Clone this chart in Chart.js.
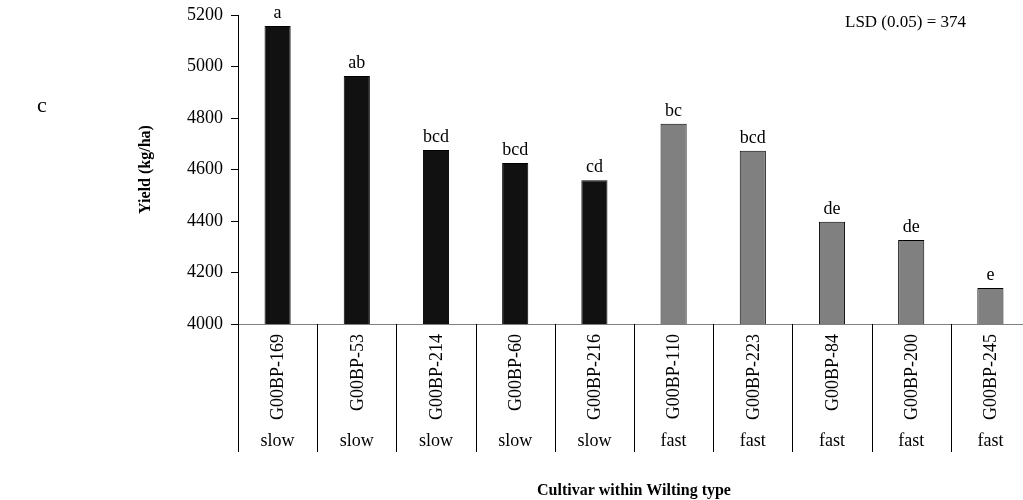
<!DOCTYPE html>
<html>
<head>
<meta charset="utf-8">
<script src="https://cdn.jsdelivr.net/npm/chart.js@4.4.1/dist/chart.umd.min.js"></script>
<style>
    html, body { margin: 0; padding: 0; background: #fff; overflow: hidden; }
    #wrap { width: 1023px; height: 500px; overflow: hidden; }
</style>
</head>
<body>
<div id="wrap"><canvas id="chart" width="1030" height="500"></canvas></div>
<script>
// 数据
const cultivars = ['G00BP-169', 'G00BP-53', 'G00BP-214', 'G00BP-60', 'G00BP-216',
    'G00BP-110', 'G00BP-223', 'G00BP-84', 'G00BP-200', 'G00BP-245'];
const wiltTypes = ['slow', 'slow', 'slow', 'slow', 'slow', 'fast', 'fast', 'fast', 'fast', 'fast'];
const yields = [5157, 4963, 4676, 4625, 4558, 4778, 4673, 4397, 4326, 4140];
const sigLetters = ['a', 'ab', 'bcd', 'bcd', 'cd', 'bc', 'bcd', 'de', 'de', 'e'];
const yMin = 4000;
const yMax = 5200;
const yStep = 200;

const SERIF = '"Liberation Serif", "Times New Roman", serif';
const typeColors = { slow: '#111111', fast: '#808080' };

// 自定义绘制：柱顶字母、分类标签、分隔线、注释文字
const extrasPlugin = {
    id: 'extras',
    afterDatasetsDraw(chart) {
        const ctx = chart.ctx;
        const meta = chart.getDatasetMeta(0);
        ctx.save();
        ctx.fillStyle = '#000';
        ctx.font = '18px ' + SERIF;
        ctx.textAlign = 'center';
        ctx.textBaseline = 'alphabetic';
        meta.data.forEach((bar, i) => {
            ctx.fillText(sigLetters[i], bar.x, bar.y - 8);
        });
        ctx.restore();
    },
    afterDraw(chart) {
        const ctx = chart.ctx;
        const x = chart.scales.x;
        const area = chart.chartArea;
        const half = (x.getPixelForValue(1) - x.getPixelForValue(0)) / 2;
        const sepBottom = 452;

        ctx.save();
        // 分隔线
        ctx.strokeStyle = '#000';
        ctx.lineWidth = 1;
        for (let i = 0; i <= cultivars.length; i++) {
            const px = Math.round(x.getPixelForValue(0) - half + i * half * 2) + 0.5;
            ctx.beginPath();
            ctx.moveTo(px, area.bottom);
            ctx.lineTo(px, sepBottom);
            ctx.stroke();
        }

        ctx.fillStyle = '#000';
        ctx.font = '18px ' + SERIF;
        cultivars.forEach((name, i) => {
            const cx = x.getPixelForValue(i);
            // 竖排品种名
            ctx.save();
            ctx.translate(cx, 334);
            ctx.rotate(-Math.PI / 2);
            ctx.textAlign = 'right';
            ctx.textBaseline = 'middle';
            ctx.fillText(name, 0, 1);
            ctx.restore();
            // 萎蔫类型
            ctx.textAlign = 'center';
            ctx.textBaseline = 'middle';
            ctx.fillText(wiltTypes[i], cx, 441);
        });

        // 注释
        ctx.textAlign = 'left';
        ctx.textBaseline = 'middle';
        ctx.font = '17px ' + SERIF;
        ctx.fillText('LSD (0.05) = 374', 845, 23);
        ctx.font = '22px ' + SERIF;
        ctx.fillText('c', 37, 106);
        ctx.restore();
    }
};

const chart = new Chart(document.getElementById('chart').getContext('2d'), {
    type: 'bar',
    data: {
        labels: cultivars,
        datasets: [{
            label: 'Yield',
            data: yields,
            backgroundColor: wiltTypes.map(t => typeColors[t]),
            borderColor: '#000000',
            borderWidth: 1,
            barPercentage: 0.33,
            categoryPercentage: 1.0
        }]
    },
    options: {
        responsive: false,
        maintainAspectRatio: false,
        animation: false,
        layout: { padding: { left: 136, top: 15, right: 0, bottom: 0 } },
        plugins: {
            legend: { display: false },
            tooltip: { enabled: false }
        },
        scales: {
            x: {
                grid: { display: false },
                ticks: { display: false },
                border: { display: true, color: '#808080', width: 1 },
                title: {
                    display: true,
                    text: 'Cultivar within Wilting type',
                    color: '#000',
                    font: { family: SERIF, size: 16, weight: 'bold' },
                    padding: { top: 0, bottom: 0 }
                },
                afterFit(scale) { scale.height = 176; }
            },
            y: {
                min: yMin,
                max: yMax,
                ticks: {
                    stepSize: yStep,
                    color: '#000',
                    padding: 8,
                    font: { family: SERIF, size: 18 },
                    callback: v => String(v)
                },
                grid: {
                    drawOnChartArea: false,
                    drawTicks: true,
                    tickLength: 7,
                    tickColor: '#000'
                },
                border: { display: true, color: '#000', width: 1 },
                title: {
                    display: true,
                    text: 'Yield (kg/ha)',
                    color: '#000',
                    font: { family: SERIF, size: 16, weight: 'bold' },
                    padding: { top: 0, bottom: 0 }
                },
                afterFit(scale) {
                    scale.width = 102;
                    scale.paddingTop = 0;
                    scale.paddingBottom = 0;
                }
            }
        }
    },
    plugins: [extrasPlugin]
});
</script>
</body>
</html>
